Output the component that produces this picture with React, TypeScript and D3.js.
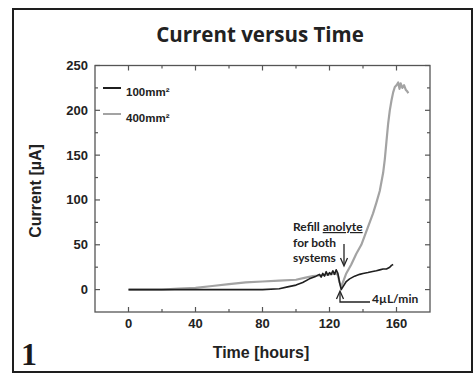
import { useEffect, useRef } from "react";
import * as d3 from "d3";

// hours vs current (µA)
const small100: [number, number][] = [
  [0, 0], [20, 0], [40, 0], [60, 0], [80, 0], [90, 1], [95, 3], [100, 5],
  [104, 8], [108, 12], [112, 15], [114, 17], [115, 14], [116, 18], [117, 15],
  [118, 20], [119, 16], [120, 19], [121, 17], [122, 21], [123, 17], [124, 22],
  [125, 18], [126, 8], [127, 0], [128, 3], [130, 9], [132, 12], [135, 15],
  [138, 17], [140, 18], [143, 19], [145, 20], [148, 21], [150, 22], [152, 23],
  [154, 23], [156, 25], [157, 27], [158, 28],
];

const large400: [number, number][] = [
  [0, 0], [20, 0], [30, 1], [40, 2], [50, 4], [60, 6], [70, 8], [80, 9],
  [90, 10], [100, 11], [105, 13], [110, 15], [115, 16], [120, 17], [124, 18],
  [125, 16], [126, 8], [127, 3], [128, 8], [130, 18], [133, 28], [136, 40],
  [139, 50], [141, 60], [143, 70], [146, 85], [148, 97], [150, 110], [152, 130],
  [153, 145], [154, 165], [155, 185], [156, 200], [157, 211], [158, 220],
  [159, 226], [160, 228], [161, 231], [161.8, 224], [162.5, 230], [163.5, 225],
  [164.5, 228], [165.5, 223], [166.5, 221], [167, 219],
];

const seriesNames = ["100mm²", "400mm²"];
const xTickLabels = [0, 40, 80, 120, 160];
const yTickLabels = [0, 50, 100, 150, 200, 250];

function App() {
  const svgRef = useRef<SVGSVGElement>(null);

  useEffect(() => {
    const width = 474;
    const height = 381;
    const svg = d3.select(svgRef.current);
    svg.selectAll("*").remove();
    svg.attr("width", width).attr("height", height);

    svg
      .append("rect")
      .attr("x", 13)
      .attr("y", 9)
      .attr("width", 459)
      .attr("height", 363)
      .attr("fill", "white")
      .attr("stroke", "#1e1e1e")
      .attr("stroke-width", 2);

    const x = d3.scaleLinear().domain([-20, 180]).range([95, 430]);
    const y = d3.scaleLinear().domain([-25, 250]).range([312, 65.5]);
    const axisColor = "#555";

    // frame of plot
    svg
      .append("rect")
      .attr("x", x(-20))
      .attr("y", y(250))
      .attr("width", x(180) - x(-20))
      .attr("height", y(-25) - y(250))
      .attr("fill", "none")
      .attr("stroke", axisColor)
      .attr("stroke-width", 1.3);

    const xt = d3.range(0, 180, 20);
    const yt = d3.range(0, 251, 25);
    const g = svg.append("g").attr("stroke", axisColor).attr("stroke-width", 1.2);
    xt.forEach((t) => {
      const len = t % 40 === 0 ? 5 : 3;
      g.append("line").attr("x1", x(t)).attr("x2", x(t)).attr("y1", y(-25)).attr("y2", y(-25) - len);
      g.append("line").attr("x1", x(t)).attr("x2", x(t)).attr("y1", y(250)).attr("y2", y(250) + len);
    });
    yt.forEach((v) => {
      const len = v % 50 === 0 ? 5 : 3;
      g.append("line").attr("x1", x(-20)).attr("x2", x(-20) + len).attr("y1", y(v)).attr("y2", y(v));
      g.append("line").attr("x1", x(180)).attr("x2", x(180) - len).attr("y1", y(v)).attr("y2", y(v));
    });

    const tickFont = "'Liberation Sans', Arial, sans-serif";
    svg
      .append("g")
      .selectAll("text")
      .data(xTickLabels)
      .join("text")
      .attr("x", (d) => x(d))
      .attr("y", 328)
      .attr("text-anchor", "middle")
      .style("font", `bold 13px ${tickFont}`)
      .attr("fill", "#222")
      .text((d) => d);

    svg
      .append("g")
      .selectAll("text")
      .data(yTickLabels)
      .join("text")
      .attr("x", 88)
      .attr("y", (d) => y(d) + 4.5)
      .attr("text-anchor", "end")
      .style("font", `bold 13px ${tickFont}`)
      .attr("fill", "#222")
      .text((d) => d);

    const line = d3
      .line<[number, number]>()
      .x((d) => x(d[0]))
      .y((d) => y(d[1]));

    svg
      .append("path")
      .datum(large400)
      .attr("d", line)
      .attr("fill", "none")
      .attr("stroke", "#a3a3a3")
      .attr("stroke-width", 2.2)
      .attr("stroke-linejoin", "round");

    svg
      .append("path")
      .datum(small100)
      .attr("d", line)
      .attr("fill", "none")
      .attr("stroke", "#1f1f1f")
      .attr("stroke-width", 1.6)
      .attr("stroke-linejoin", "round");

    // legend
    const legendColors = ["#1f1f1f", "#a3a3a3"];
    seriesNames.forEach((name, i) => {
      const ly = 88 + i * 26;
      svg.append("line").attr("x1", 103).attr("x2", 121).attr("y1", ly).attr("y2", ly)
        .attr("stroke", legendColors[i]).attr("stroke-width", 2);
      svg.append("text").attr("x", 126).attr("y", ly + 8)
        .style("font", `bold 11.5px ${tickFont}`).attr("fill", "#222").text(name);
    });

    // titles
    svg.append("text").attr("x", 260).attr("y", 42).attr("text-anchor", "middle")
      .style("font", "bold 20.5px 'Open Sans', Lato, sans-serif").attr("fill", "#222")
      .text("Current versus Time");
    svg.append("text").attr("x", 261).attr("y", 358).attr("text-anchor", "middle")
      .style("font", `bold 16px ${tickFont}`).attr("fill", "#222").text("Time [hours]");
    svg.append("text").attr("transform", "translate(41,191) rotate(-90)").attr("text-anchor", "middle")
      .style("font", `bold 16px ${tickFont}`).attr("fill", "#222").text("Current [µA]");
    svg.append("text").attr("x", 21).attr("y", 365)
      .style("font", "bold 32px 'Liberation Serif', serif").attr("fill", "#1a1a1a").text("1");

    // annotations
    const annFont = "bold 12px Lato, 'Open Sans', sans-serif";
    const ann = svg.append("g").attr("fill", "#222").style("font", annFont);
    const t1 = ann.append("text").attr("x", 293).attr("y", 231);
    t1.append("tspan").text("Refill ");
    t1.append("tspan").attr("text-decoration", "underline").text("anolyte");
    ann.append("text").attr("x", 293).attr("y", 247).text("for both");
    ann.append("text").attr("x", 293).attr("y", 262).text("systems");
    ann.append("text").attr("x", 372).attr("y", 303).text("4µL/min");

    const ax = svg.append("g").attr("stroke", "#222").attr("stroke-width", 1.3).attr("fill", "none");
    ax.append("line").attr("x1", 344).attr("x2", 344).attr("y1", 244).attr("y2", 264);
    ax.append("path").attr("d", "M340.5,258 L344,266 L347.5,258").attr("stroke-width", 1.3);
    ax.append("path").attr("d", "M340,293 L340,302 L370,302");
    ax.append("path").attr("d", "M336.5,299 L340,291 L343.5,299");
  }, []);

  return (
    <div style={{ position: "absolute", left: 0, top: 0 }}>
      <svg ref={svgRef}></svg>
    </div>
  );
}

export default App;
